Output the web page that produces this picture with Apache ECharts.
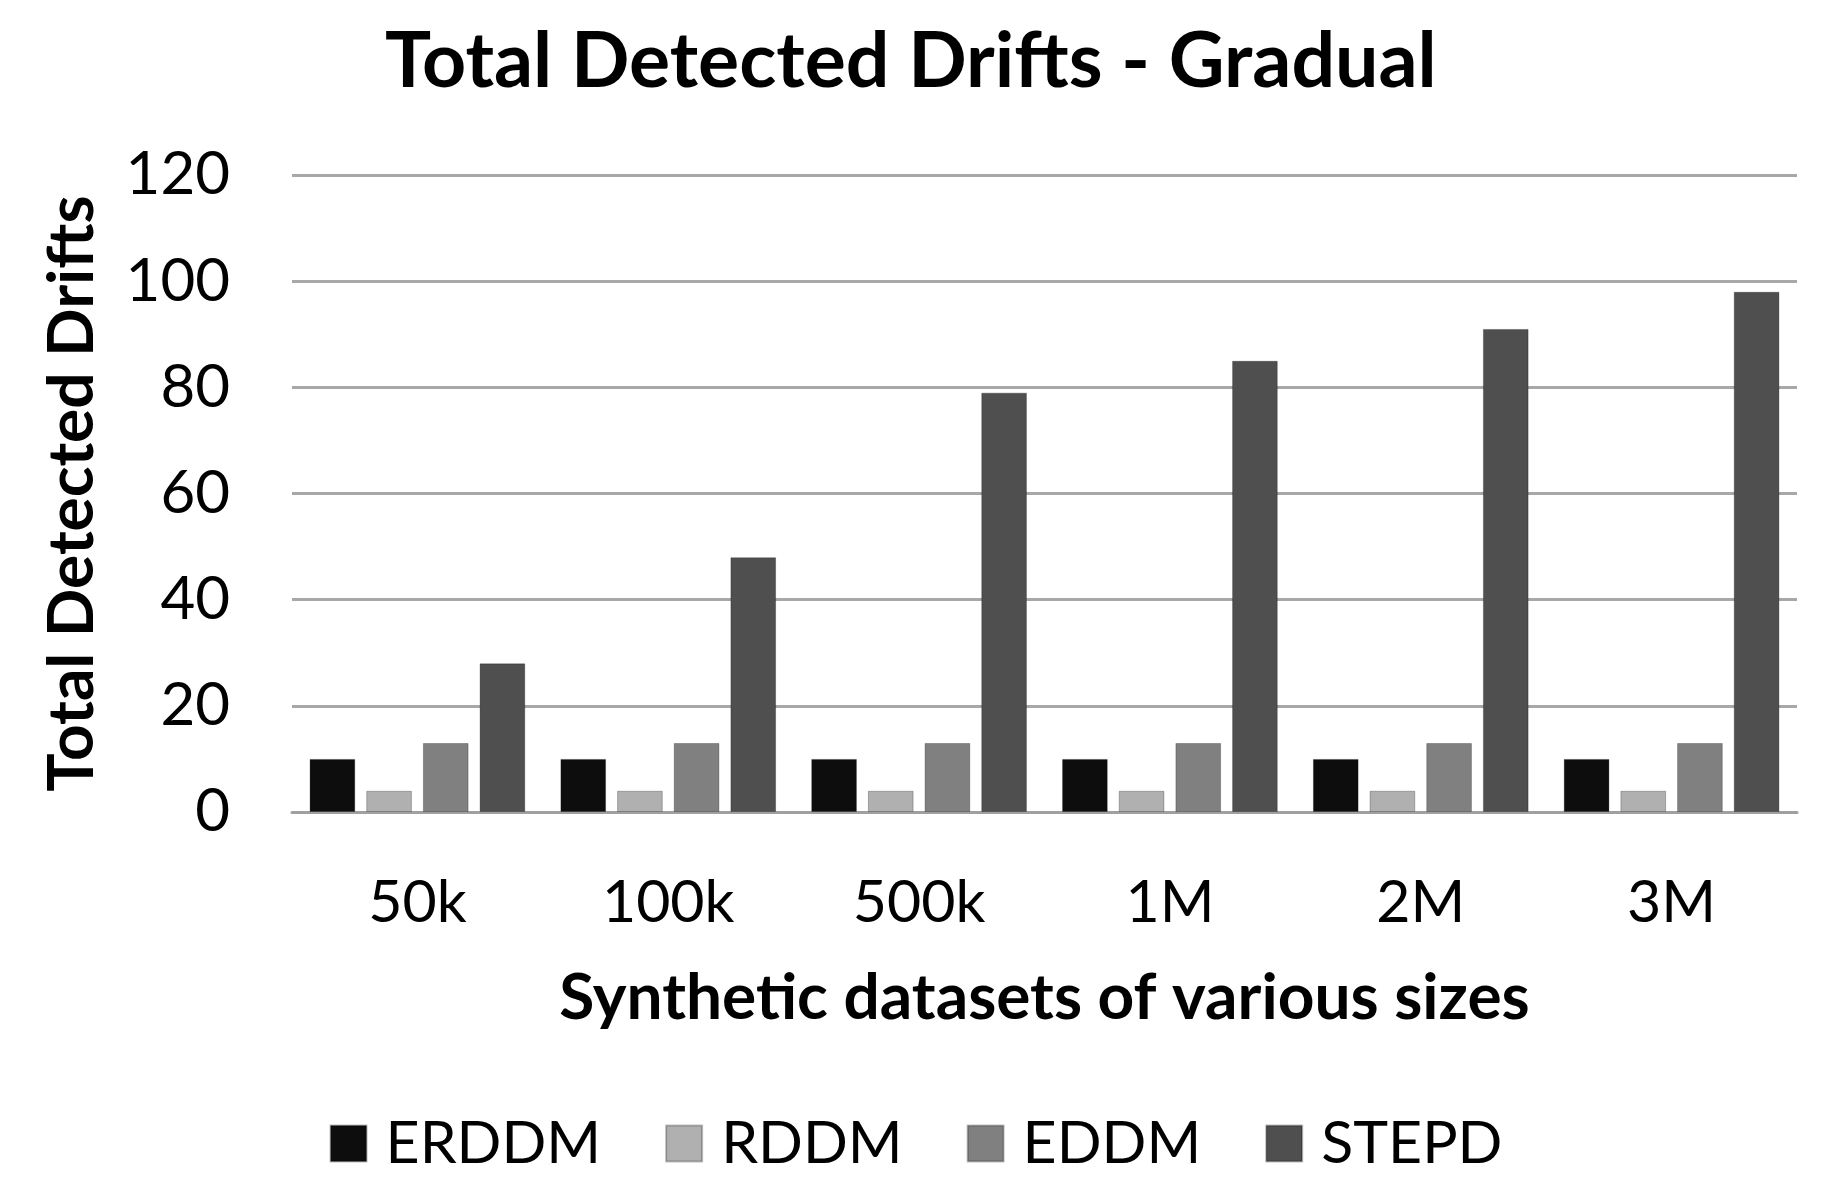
<!DOCTYPE html>
<html><head><meta charset="utf-8">
<script src="https://cdn.jsdelivr.net/npm/echarts@6/dist/echarts.min.js"></script>
<style>html,body{margin:0;padding:0;background:#fff}#c{width:1832px;height:1204px}</style>
</head><body><div id="c"></div>
<script>
const categories = ['50k','100k','500k','1M','2M','3M'];
const seriesNames = ['ERDDM','RDDM','EDDM','STEPD'];
const erddm = [10,10,10,10,10,10];
const rddm  = [4,4,4,4,4,4];
const eddm  = [13,13,13,13,13,13];
const stepd = [28,48,79,85,91,98];
const yTicks = [0,20,40,60,80,100,120];
const colors = ['#0d0d0d','#b0b0b0','#808080','#4f4f4f'];
const values = [erddm, rddm, eddm, stepd];
const F = 'Lato';
const chart = echarts.init(document.getElementById('c'));
chart.setOption({
  animation:false,
  backgroundColor:'#fff',
  title:{text:'Total Detected Drifts - Gradual',left:380,top:19,
    textStyle:{fontFamily:F,fontWeight:'bold',fontSize:77,color:'#000'}},
  legend:{bottom:26,left:'center',itemWidth:36,itemHeight:36,itemGap:64,icon:'rect',
    textStyle:{fontFamily:F,fontSize:59,color:'#000',padding:[0,0,0,14]},
    data:seriesNames},
  grid:{left:292,right:35,top:175,bottom:392},
  xAxis:{type:'category',data:categories,
    axisLine:{lineStyle:{color:'#a0a0a0',width:3}},axisTick:{show:false},
    axisLabel:{fontFamily:F,fontSize:59,color:'#000',margin:61},
    name:'Synthetic datasets of various sizes',nameLocation:'middle',nameGap:154,
    nameTextStyle:{fontFamily:F,fontWeight:'bold',fontSize:64,color:'#000'}},
  yAxis:{type:'value',min:0,max:120,interval:20,
    axisLine:{show:false},axisTick:{show:false},
    splitLine:{lineStyle:{color:'#a8a8a8',width:3}},
    axisLabel:{fontFamily:F,fontSize:60,color:'#000',margin:62,
      formatter:v=>yTicks.includes(v)?String(v):''},
    name:'Total Detected Drifts',nameLocation:'middle',nameGap:188,
    nameTextStyle:{fontFamily:F,fontWeight:'bold',fontSize:64,color:'#000'}},
  series:seriesNames.map((n,i)=>({name:n,type:'bar',data:values[i],
    barCategoryGap:'14%',barGap:'24%',
    itemStyle:{color:colors[i],borderColor:'rgba(0,0,0,0.25)',borderWidth:1}}))
});
</script></body></html>
